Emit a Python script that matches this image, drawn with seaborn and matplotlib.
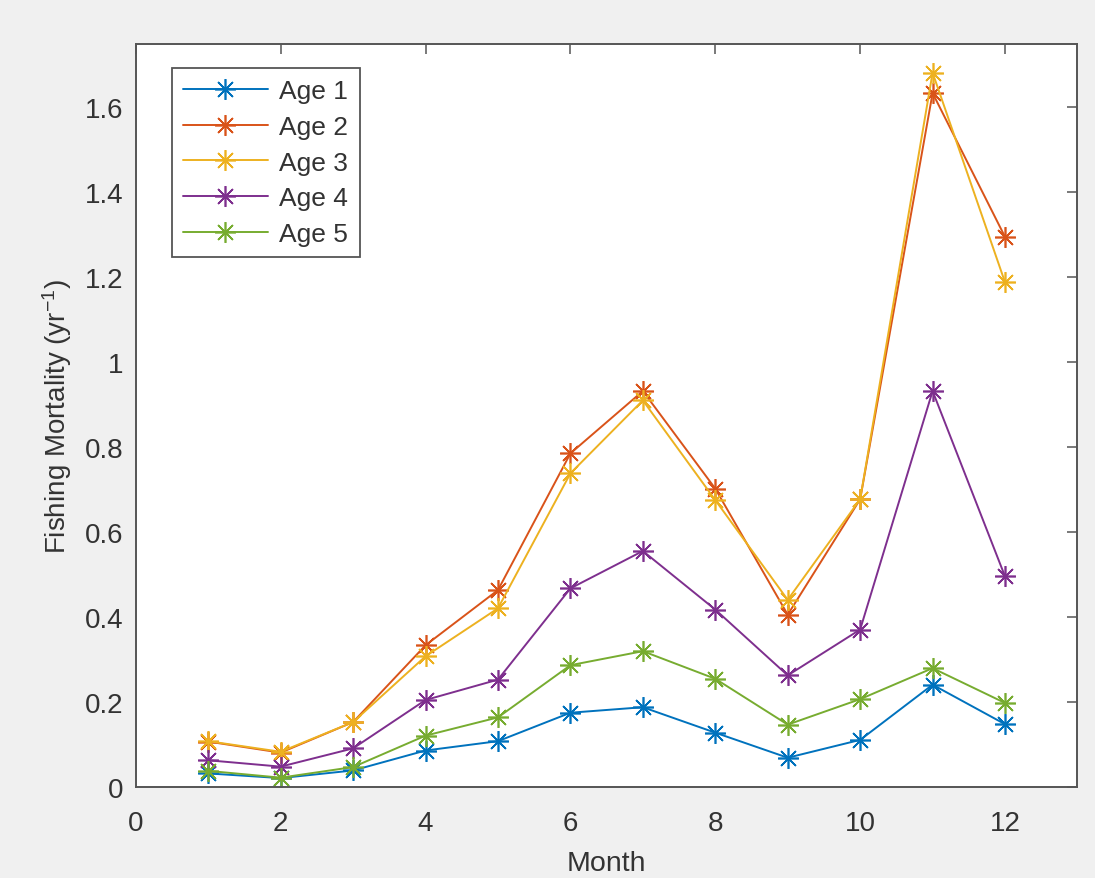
import numpy as np
import pandas as pd
import matplotlib
matplotlib.use("Agg")
import matplotlib.pyplot as plt
import matplotlib.ticker as mticker
import seaborn as sns

# Monthly fishing mortality by age class
months = [1, 2, 3, 4, 5, 6, 7, 8, 9, 10, 11, 12]
age1 = [0.031, 0.020, 0.038, 0.085, 0.107, 0.174, 0.187, 0.127, 0.068, 0.110, 0.240, 0.147]
age2 = [0.106, 0.080, 0.152, 0.333, 0.463, 0.785, 0.932, 0.702, 0.405, 0.677, 1.634, 1.295]
age3 = [0.107, 0.082, 0.152, 0.307, 0.420, 0.738, 0.910, 0.675, 0.440, 0.677, 1.682, 1.188]
age4 = [0.062, 0.047, 0.090, 0.204, 0.252, 0.467, 0.555, 0.417, 0.262, 0.370, 0.932, 0.495]
age5 = [0.037, 0.021, 0.046, 0.120, 0.163, 0.286, 0.319, 0.254, 0.146, 0.206, 0.279, 0.197]
age_labels = ["Age 1", "Age 2", "Age 3", "Age 4", "Age 5"]
x_ticks = [0, 2, 4, 6, 8, 10, 12]
y_ticks = [0, 0.2, 0.4, 0.6, 0.8, 1.0, 1.2, 1.4, 1.6]

series = [age1, age2, age3, age4, age5]
df = pd.concat(
    [pd.DataFrame({"Month": months, "F": vals, "Age": lab})
     for lab, vals in zip(age_labels, series)],
    ignore_index=True,
)

colors = ["#0072BD", "#D95319", "#EDB120", "#7E2F8E", "#77AC30"]
palette = dict(zip(age_labels, colors))

sns.set_theme(style="white")
plt.rcParams["font.family"] = ["Liberation Sans", "DejaVu Sans"]
plt.rcParams["mathtext.fontset"] = "custom"
plt.rcParams["mathtext.rm"] = "Liberation Sans"
plt.rcParams["mathtext.it"] = "Liberation Sans"

fig = plt.figure(figsize=(10.95, 8.79), dpi=100, facecolor="#f0f0f0")
ax = fig.add_axes([0.124, 0.104, 0.860, 0.845])
ax.set_facecolor("white")

asterisk = (8, 2, 0)
for lab in age_labels:
    sns.lineplot(
        data=df[df["Age"] == lab], x="Month", y="F", color=palette[lab],
        marker=asterisk, markersize=15, markeredgewidth=1.2,
        markeredgecolor=palette[lab], linewidth=1.4, label=lab, ax=ax,
    )

text_col = "#333333"
ax.set_xlim(0, 13)
ax.set_ylim(0, 1.75)
ax.set_xticks(x_ticks)
ax.set_yticks(y_ticks)
ax.yaxis.set_major_formatter(mticker.FormatStrFormatter("%g"))
ax.tick_params(axis="both", which="major", direction="in", length=7, width=1.1,
               colors="#555555", labelcolor=text_col, labelsize=20,
               top=True, right=True)
ax.tick_params(axis="x", pad=17)
ax.tick_params(axis="y", pad=9)
for sp in ax.spines.values():
    sp.set_visible(True)
    sp.set_color("#555555")
    sp.set_linewidth(1.4)

ax.set_xlabel("Month", fontsize=20.5, color=text_col, labelpad=10)
ax.set_ylabel(r"Fishing Mortality (yr$^{\mathregular{-1}}$)", fontsize=20,
              color=text_col, labelpad=8)

leg = ax.legend(loc="upper left", bbox_to_anchor=(0.0385, 0.967), borderaxespad=0,
                fontsize=19, frameon=True, fancybox=False, framealpha=1,
                edgecolor="#555555", handlelength=3.2, handletextpad=0.45,
                labelspacing=0.44, borderpad=0.42)
leg.get_frame().set_linewidth(1.3)
for t in leg.get_texts():
    t.set_color(text_col)

fig.savefig("out.png", dpi=100, facecolor=fig.get_facecolor())
